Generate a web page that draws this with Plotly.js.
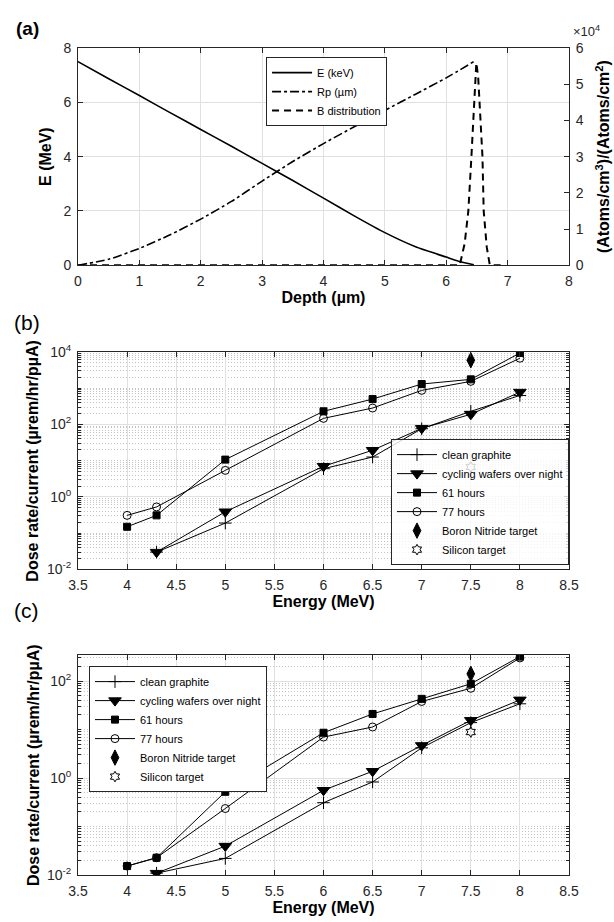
<!DOCTYPE html>
<html><head><meta charset="utf-8">
<script src="https://cdn.plot.ly/plotly-3.0.1.min.js"></script>
<style>body{margin:0;padding:0;background:#fff}#chart{width:614px;height:922px}</style>
</head><body><div id="chart"></div>
<script>
// ---------- Panel (a) data ----------
const depthE = [0, 0.5, 1, 1.5, 2, 2.5, 3, 3.5, 4, 4.5, 5, 5.5, 6, 6.2, 6.45];
const energyE = [7.5, 6.87, 6.25, 5.62, 5.0, 4.38, 3.75, 3.12, 2.47, 1.82, 1.2, 0.68, 0.3, 0.15, 0.02];
const depthRp = [0, 0.5, 1, 1.5, 2, 2.5, 3, 3.5, 4, 4.5, 5, 5.5, 6, 6.45];
const valueRp = [0, 0.22, 0.62, 1.12, 1.7, 2.35, 3.1, 3.82, 4.48, 5.1, 5.7, 6.3, 6.9, 7.5];
const depthB = [0, 6.22, 6.3, 6.36, 6.41, 6.46, 6.49, 6.52, 6.54, 6.59, 6.61, 6.66, 6.71, 6.95];
const valueB = [0, 0, 6000, 15000, 30000, 45000, 55900, 52000, 45000, 30000, 15000, 5000, 0, 0];

// ---------- Panels (b) and (c) data ----------
const energyFull = [4, 4.3, 5, 6, 6.5, 7, 7.5, 8];
const energyFrom43 = [4.3, 5, 6, 6.5, 7, 7.5, 8];
const energySingle = [7.5];

const bClean = [0.030, 0.19, 6.0, 12.6, 76, 230, 630];
const bCycling = [0.030, 0.39, 7.0, 19.4, 78, 190, 780];
const b61h = [0.15, 0.31, 10.7, 230, 500, 1300, 1750, 9300];
const b77h = [0.31, 0.53, 5.4, 147, 283, 870, 1540, 6700];
const bBN = [5900];
const bSi = [6.7];

const cClean = [0.0109, 0.022, 0.31, 0.83, 4.2, 13.9, 34];
const cCycling = [0.0109, 0.0395, 0.56, 1.38, 4.7, 15.5, 41];
const c61h = [0.0153, 0.0227, 0.52, 8.6, 21, 43, 88, 320];
const c77h = [0.0153, 0.0227, 0.235, 7.0, 11.3, 38, 71, 300];
const cBN = [141];
const cSi = [8.9];

const logTickVals = [0.01, 1, 100, 10000];
const logTickText = ['10<sup>-2</sup>', '10<sup>0</sup>', '10<sup>2</sup>', '10<sup>4</sup>'];
const rightTickVals = [0, 10000, 20000, 30000, 40000, 50000, 60000];
const rightTickText = ['0', '1', '2', '3', '4', '5', '6'];

const F = 'Liberation Sans, Arial, Helvetica, sans-serif';
const AX = '#262626';
const GRID = '#e0e0e0';

function series(x, y, name, symbol, size, xa, ya, lg, lines) {
  return {
    x: x, y: y, name: name, xaxis: xa, yaxis: ya, legend: lg,
    type: 'scatter', mode: lines ? 'lines+markers' : 'markers',
    line: {color: '#000', width: 1},
    marker: {symbol: symbol, size: size, color: '#000', line: {color: '#000', width: 1}}
  };
}

const traces = [
  {x: depthE, y: energyE, name: 'E (keV)', type: 'scatter', mode: 'lines', xaxis: 'x', yaxis: 'y',
   legend: 'legend', line: {color: '#000', width: 1.6, dash: 'solid', shape: 'spline', smoothing: 0.5}},
  {x: depthRp, y: valueRp, name: 'Rp (µm)', type: 'scatter', mode: 'lines', xaxis: 'x', yaxis: 'y',
   legend: 'legend', line: {color: '#000', width: 1.6, dash: 'dashdot', shape: 'spline', smoothing: 0.5}},
  {x: depthB, y: valueB, name: 'B distribution', type: 'scatter', mode: 'lines', xaxis: 'x', yaxis: 'y2',
   legend: 'legend', line: {color: '#000', width: 2, dash: '7px,5px'}},

  series(energyFrom43, bClean, 'clean graphite', 'cross-thin-open', 9, 'x2', 'y3', 'legend2', true),
  series(energyFrom43, bCycling, 'cycling wafers over night', 'triangle-down', 11, 'x2', 'y3', 'legend2', true),
  series(energyFull, b61h, '61 hours', 'square', 7, 'x2', 'y3', 'legend2', true),
  series(energyFull, b77h, '77 hours', 'circle-open', 8, 'x2', 'y3', 'legend2', true),
  series(energySingle, bBN, 'Boron Nitride target', 'diamond-tall', 11, 'x2', 'y3', 'legend2', false),
  series(energySingle, bSi, 'Silicon target', 'hexagram-open', 8, 'x2', 'y3', 'legend2', false),

  series(energyFrom43, cClean, 'clean graphite', 'cross-thin-open', 9, 'x3', 'y4', 'legend3', true),
  series(energyFrom43, cCycling, 'cycling wafers over night', 'triangle-down', 11, 'x3', 'y4', 'legend3', true),
  series(energyFull, c61h, '61 hours', 'square', 7, 'x3', 'y4', 'legend3', true),
  series(energyFull, c77h, '77 hours', 'circle-open', 8, 'x3', 'y4', 'legend3', true),
  series(energySingle, cBN, 'Boron Nitride target', 'diamond-tall', 11, 'x3', 'y4', 'legend3', false),
  series(energySingle, cSi, 'Silicon target', 'hexagram-open', 8, 'x3', 'y4', 'legend3', false)
];

function base(extra) {
  return Object.assign({
    showline: true, linecolor: AX, linewidth: 1, ticks: 'inside', ticklen: 5, tickcolor: AX,
    showgrid: true, gridcolor: GRID, gridwidth: 1, zeroline: false, fixedrange: true,
    tickfont: {family: F, size: 14, color: AX}, ticklabelstandoff: 3
  }, extra);
}
function bold(text, size, standoff) {
  return {text: text, font: {family: F, size: size, color: '#000', weight: 'bold'}, standoff: standoff};
}
const minorLog = {dtick: 'D1', ticks: 'inside', ticklen: 3, tickcolor: AX, showgrid: true,
                  gridcolor: '#c4c4c4', griddash: '1px,2px', gridwidth: 1};

const legendBase = {bordercolor: AX, borderwidth: 1, itemwidth: 40, tracegroupgap: 0,
                    font: {family: F, size: 11, color: '#000'}};

const yTitleFont = {family: F, size: 16, color: '#000', weight: 'bold'};

const layout = {
  width: 614, height: 922,
  margin: {l: 78, r: 45, t: 47.7, b: 47},
  paper_bgcolor: '#fff', plot_bgcolor: '#fff',
  font: {family: F, color: AX},
  xaxis: base({domain: [0, 1], anchor: 'y', range: [0, 8], dtick: 1, mirror: 'ticks',
               title: bold('Depth (µm)', 16, 3)}),
  yaxis: base({domain: [0.7373, 1], anchor: 'x', range: [0, 8], dtick: 2, mirror: false,
               title: bold('E (MeV)', 16, 7)}),
  yaxis2: base({overlaying: 'y', anchor: 'x', side: 'right', range: [0, 60000], showgrid: false,
                tickmode: 'array', tickvals: rightTickVals, ticktext: rightTickText,
                title: bold('(Atoms/cm<sup>3</sup>)/(Atoms/cm<sup>2</sup>)', 16, 15)}),

  xaxis2: base({domain: [0, 1], anchor: 'y3', range: [3.5, 8.5], dtick: 0.5, mirror: 'ticks',
                title: bold('Energy (MeV)', 16, 3)}),
  yaxis3: base({domain: [0.3695, 0.6325], anchor: 'x2', type: 'log', range: [-2, 4], mirror: 'ticks',
                tickmode: 'array', tickvals: logTickVals, ticktext: logTickText, minor: minorLog}),

  xaxis3: base({domain: [0, 1], anchor: 'y4', range: [3.5, 8.5], dtick: 0.5, mirror: 'ticks',
                title: bold('Energy (MeV)', 16, 3)}),
  yaxis4: base({domain: [0, 0.2659], anchor: 'x3', type: 'log', range: [-2, 2.536], mirror: 'ticks',
                tickmode: 'array', tickvals: logTickVals, ticktext: logTickText, minor: minorLog}),

  legend: Object.assign({}, legendBase, {x: 0.383, y: 0.989, xanchor: 'left', yanchor: 'top', bgcolor: '#fff'}),
  legend2: Object.assign({}, legendBase, {x: 1, y: 0.3747, xanchor: 'right', yanchor: 'bottom',
                                          bgcolor: 'rgba(255,255,255,0.8)'}),
  legend3: Object.assign({}, legendBase, {x: 0.0224, y: 0.2526, xanchor: 'left', yanchor: 'top', bgcolor: '#fff'}),
  showlegend: true,

  annotations: [
    {text: '<b>(a)</b>', xref: 'paper', yref: 'paper', x: -0.13, y: 1.023, xanchor: 'left', yanchor: 'middle',
     showarrow: false, font: {family: F, size: 19, color: '#000'}},
    {text: '(b)', xref: 'paper', yref: 'paper', x: -0.135, y: 1 - (322 - 47.7) / 827.3, xanchor: 'left', yanchor: 'middle',
     showarrow: false, font: {family: F, size: 21, color: '#000'}},
    {text: '(c)', xref: 'paper', yref: 'paper', x: -0.135, y: 1 - (610 - 47.7) / 827.3, xanchor: 'left', yanchor: 'middle',
     showarrow: false, font: {family: F, size: 21, color: '#000'}},
    {text: '×10<sup>4</sup>', xref: 'paper', yref: 'paper', x: 1.004, y: 1 - (41 - 47.7) / 827.3, xanchor: 'left', yanchor: 'bottom',
     showarrow: false, font: {family: F, size: 13, color: AX}},
    {text: 'Dose rate/current (µrem/hr/pµA)', xref: 'paper', yref: 'paper', textangle: -90,
     x: (33 - 78) / 491, y: 1 - (460.5 - 47.7) / 827.3, xanchor: 'center', yanchor: 'middle',
     showarrow: false, font: yTitleFont},
    {text: 'Dose rate/current (µrem/hr/pµA)', xref: 'paper', yref: 'paper', textangle: -90,
     x: (33 - 78) / 491, y: 1 - (765 - 47.7) / 827.3, xanchor: 'center', yanchor: 'middle',
     showarrow: false, font: yTitleFont}
  ]
};

Plotly.newPlot('chart', traces, layout, {displayModeBar: false, staticPlot: true});
</script></body></html>
